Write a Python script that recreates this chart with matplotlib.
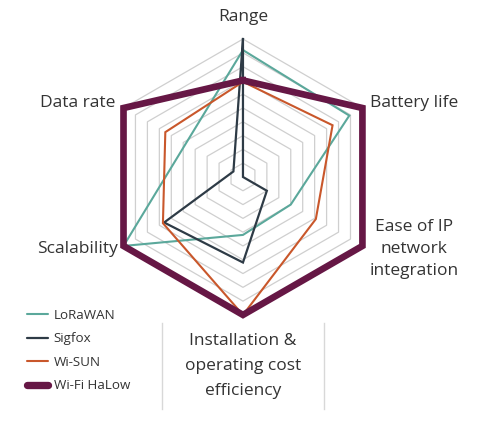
import numpy as np
import matplotlib.pyplot as plt
from matplotlib.lines import Line2D

plt.rcParams['font.family'] = ['Open Sans', 'DejaVu Sans']

# axes, clockwise from the top
axes_labels = ['Range', 'Battery life', 'Ease of IP\nnetwork\nintegration',
               'Installation &\noperating cost\nefficiency', 'Scalability', 'Data rate']

# scores on a 0-10 scale
lorawan = [9.2, 8.9, 4.0, 4.2, 10.0, 4.8]
sigfox = [10.0, 0.0, 2.0, 6.2, 6.6, 0.8]
wisun = [6.9, 7.5, 6.1, 10.0, 6.7, 6.5]
halow = [7.0, 10.0, 10.0, 10.0, 10.0, 10.0]

series = [
    ('LoRaWAN', lorawan, '#5ba89b', 1.5),
    ('Sigfox', sigfox, '#2e3b46', 1.6),
    ('Wi-SUN', wisun, '#c9572b', 1.5),
    ('Wi-Fi HaLow', halow, '#661745', 4.8),
]

n = len(axes_labels)
theta = np.linspace(0, 2 * np.pi, n, endpoint=False)
theta_c = np.append(theta, theta[0])

fig = plt.figure(figsize=(4.84, 4.28), dpi=100)
ax = fig.add_axes([0.217, 0.264, 0.570, 0.645], projection='polar')
ax.set_theta_offset(np.pi / 2)
ax.set_theta_direction(-1)
ax.set_ylim(0, 10)
ax.grid(False)
ax.spines['polar'].set_visible(False)
ax.set_xticks([])
ax.set_yticks([])
ax.patch.set_alpha(0)

# hexagonal rings
for r in range(1, 11):
    ax.plot(theta_c, [r] * (n + 1), color='#cfcfcf', lw=0.9, zorder=1)

for name, vals, col, lw in series:
    v = np.append(vals, vals[0])
    ax.plot(theta_c, v, color=col, lw=lw, solid_joinstyle='miter',
            label=name, zorder=3, clip_on=False)

tc = '#333333'
fs = 12.5
fig.text(243 / 484, 1 - 17 / 428, axes_labels[0], ha='center', va='center', fontsize=fs, color=tc)
fig.text(370 / 484, 1 - 103 / 428, axes_labels[1], ha='left', va='center', fontsize=fs, color=tc)
fig.text(414 / 484, 1 - 249 / 428, axes_labels[2], ha='center', va='center', fontsize=fs,
         color=tc, linespacing=1.5)
fig.text(243 / 484, 1 - 366 / 428, axes_labels[3], ha='center', va='center', fontsize=fs,
         color=tc, linespacing=1.75)
fig.text(118 / 484, 1 - 249 / 428, axes_labels[4], ha='right', va='center', fontsize=fs, color=tc)
fig.text(115 / 484, 1 - 103 / 428, axes_labels[5], ha='right', va='center', fontsize=fs, color=tc)

# box sides around the bottom label
for x in (162, 324):
    fig.add_artist(Line2D([x / 484, x / 484], [1 - 323 / 428, 1 - 409 / 428],
                          color='#d8d8d8', lw=1))

handles = [Line2D([], [], color=c, lw=lw * 1.1 if lw > 2 else lw, solid_capstyle='round')
           for _, _, c, lw in series]
fig.legend(handles, [s[0] for s in series], loc='upper left',
           bbox_to_anchor=(15 / 484, 1 - 297 / 428), frameon=False, fontsize=9.6,
           handlelength=1.6, handletextpad=0.4, labelspacing=0.78, labelcolor=tc)

fig.text(20 / 484, 1 - 435 / 428, 'Figure 3: Comparison of wireless technologies: LoRaWAN, Wi-SUN, Wi-Fi HaLow',
         ha='left', va='center', fontsize=11, color='#c4c4c4')

fig.savefig('out.png', dpi=100)
